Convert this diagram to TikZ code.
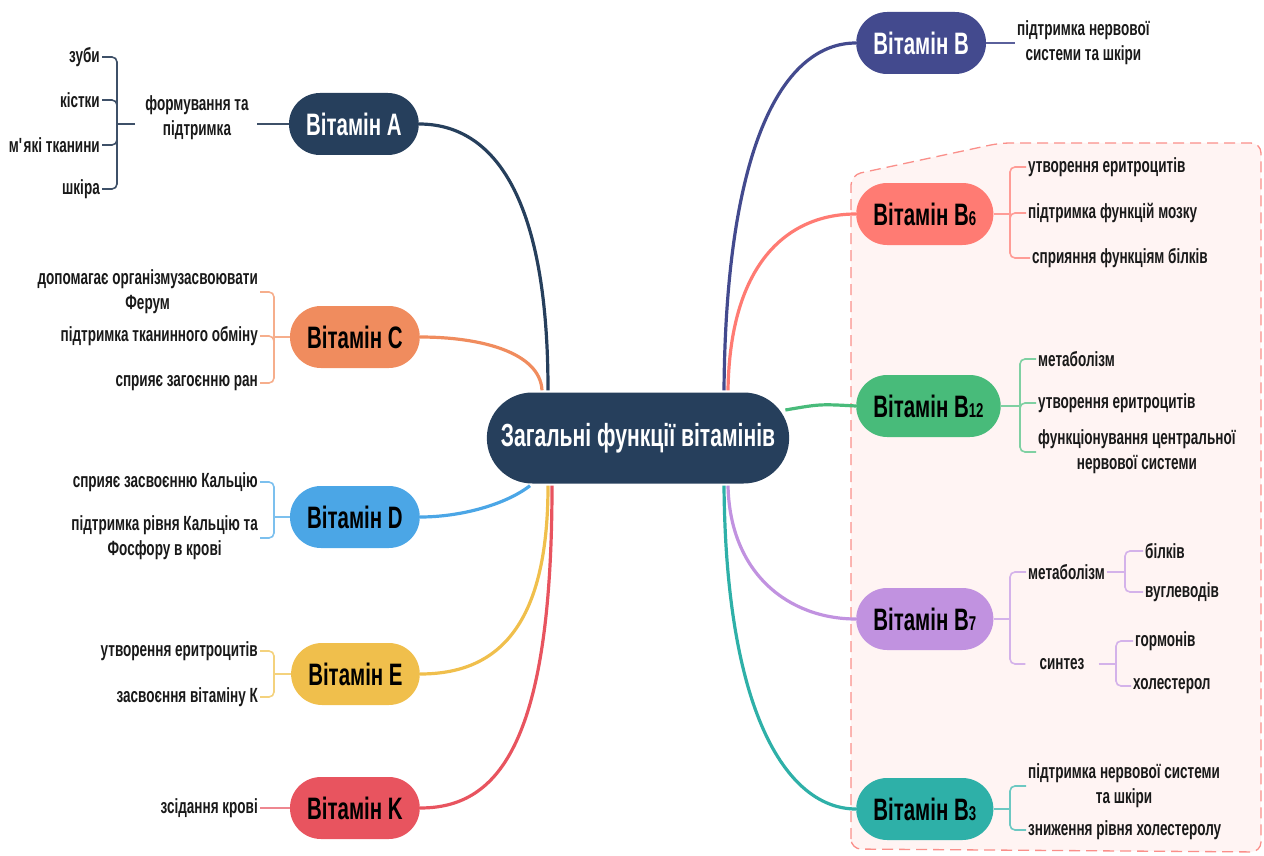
\documentclass[tikz,border=0pt]{standalone}
\usepackage{fontspec}
\setmainfont{Liberation Sans}[FakeStretch=0.66]
\usepackage{tikz}
\usetikzlibrary{calc,shapes.misc}

\definecolor{navy}{HTML}{263F5C}
\definecolor{navyl}{HTML}{3E5068}
\definecolor{vitc}{HTML}{F08C5E}
\definecolor{vitcl}{HTML}{F6AE8C}
\definecolor{vitd}{HTML}{4BA6E6}
\definecolor{vitdl}{HTML}{7CC0EE}
\definecolor{vite}{HTML}{F0BF4C}
\definecolor{vitel}{HTML}{F4D27D}
\definecolor{vitk}{HTML}{E8545F}
\definecolor{vitkl}{HTML}{EE8790}
\definecolor{vitb}{HTML}{434A8E}
\definecolor{vitbl}{HTML}{5A609B}
\definecolor{vitbsix}{HTML}{FF7B73}
\definecolor{vitbsixl}{HTML}{FF9C96}
\definecolor{vitbtw}{HTML}{48BB7A}
\definecolor{vitbtwl}{HTML}{7FD0A2}
\definecolor{vitbsev}{HTML}{C192E0}
\definecolor{vitbsevl}{HTML}{D4B2EA}
\definecolor{vitbthr}{HTML}{2EB0A8}
\definecolor{vitbthrl}{HTML}{6CC8C2}
\definecolor{zonefill}{HTML}{FFF4F3}
\definecolor{zoneline}{HTML}{FA8F8A}

\pgfdeclarelayer{background}
\pgfsetlayers{background,main}

\newcommand{\idx}[1]{{\fontsize{20}{20}\selectfont #1}}

\tikzset{
	vit/.style={rounded rectangle, minimum height=62pt, inner xsep=15pt, font=\fontsize{31}{31}\selectfont\bfseries},
	leaf/.style={inner sep=2pt, text=black!90, font=\fontsize{20.5}{25}\selectfont\bfseries},
	branch/.style={line width=3.2pt},
	twig/.style={line width=1.6pt, rounded corners=5pt}
}

\begin{document}
\begin{tikzpicture}[x=1pt,y=-1pt]
				\useasboundingbox (0,0) rectangle (1264,856);
				
				\node[rounded rectangle, fill=navy, text=white, minimum width=309pt, minimum height=91pt, font=\fontsize{32}{32}\selectfont\bfseries] (Z) at (638,438) {Загальні функції вітамінів};
				
				% left side
				\node[vit, fill=navy, text=white, anchor=east] (A) at (419,124) {Вітамін A};
				\node[vit, fill=vitc, anchor=east] (C) at (420,337) {Вітамін C};
				\node[vit, fill=vitd, anchor=east] (D) at (420,517) {Вітамін D};
				\node[vit, fill=vite, anchor=east] (E) at (420,674) {Вітамін E};
				\node[vit, fill=vitk, anchor=east] (K) at (420,808) {Вітамін K};
				
				% right side
				\node[vit, fill=vitb, text=white, anchor=west] (B) at (856,43) {Вітамін B};
				\node[vit, fill=vitbsix, anchor=west] (B6) at (856,214) {Вітамін B\idx{6}};
				\node[vit, fill=vitbtw, anchor=west] (B12) at (856,406) {Вітамін B\idx{12}};
				\node[vit, fill=vitbsev, anchor=west] (B7) at (856,619) {Вітамін B\idx{7}};
				\node[vit, fill=vitbthr, anchor=west] (B3) at (856,809) {Вітамін B\idx{3}};
				
				\begin{pgfonlayer}{background}
				\draw[zoneline, fill=zonefill, line width=1.3pt, dash pattern=on 11pt off 6pt, rounded corners=10pt] (851,849) -- (851,175) -- (1000,143) -- (1261,143) -- (1261,852) -- cycle;
				
				\draw[branch, navy] ($(Z.north)+(-90,-2)$) .. controls (548,190) and (490,124) .. (A.east);
				\draw[branch, vitc] ($(Z.north)+(-96,-2)$) .. controls (540,352) and (480,337) .. (C.east);
				\draw[branch, vitd] ($(Z.south)+(-108,2)$) .. controls (505,505) and (460,517) .. (D.east);
				\draw[branch, vite] ($(Z.south)+(-90,2)$) .. controls (548,630) and (495,674) .. (E.east);
				\draw[branch, vitk] ($(Z.south)+(-86,2)$) .. controls (552,750) and (495,808) .. (K.east);
				\draw[branch, vitb] ($(Z.north)+(86,-2)$) .. controls (726,140) and (785,43) .. (B.west);
				\draw[branch, vitbsix] ($(Z.north)+(90,-2)$) .. controls (730,260) and (790,214) .. (B6.west);
				\draw[branch, vitbtw] ($(Z.east)+(-4,-28)$) .. controls (820,404) .. (B12.west);
				\draw[branch, vitbsev] ($(Z.south)+(90,2)$) .. controls (730,575) and (790,619) .. (B7.west);
				\draw[branch, vitbthr] ($(Z.south)+(86,2)$) .. controls (726,720) and (790,809) .. (B3.west);
				\end{pgfonlayer}
				
				% vitamin A
				\node[leaf, align=center] (a0) at (197,118) {формування та\\підтримка};
				\node[leaf, anchor=east] (a1) at (102,57) {зуби};
				\node[leaf, anchor=east] (a2) at (102,100) {кістки};
				\node[leaf, anchor=east] (a3) at (102,145) {м\textquotesingle які тканини};
				\node[leaf, anchor=east] (a4) at (102,189) {шкіра};
				\coordinate (aj) at (117,124);
				\draw[twig, navyl] (A.west) -- ($(a0.east)+(6,6)$);
				\draw[twig, navyl] ($(a0.west)+(-8,6)$) -- (aj);
				\foreach \n in {a1,a2,a3,a4}{
					\draw[twig, navyl] (aj) |- (\n.east);
				}
				
				% vitamin C
				\node[leaf, anchor=east, align=center] (c1) at (260,292) {допомагає організмузасвоювати\\Ферум};
				\node[leaf, anchor=east] (c2) at (260,336) {підтримка тканинного обміну};
				\node[leaf, anchor=east] (c3) at (260,383) {сприяє загоєнню ран};
				\coordinate (cj) at (274,337);
				\draw[twig, vitcl] (C.west) -- (cj);
				\foreach \n in {c1,c2,c3}{
					\draw[twig, vitcl] (cj) |- (\n.east);
				}
				
				% vitamin D
				\node[leaf, anchor=east] (d1) at (260,482) {сприяє засвоєнню Кальцію};
				\node[leaf, anchor=east, align=center] (d2) at (260,538) {підтримка рівня Кальцію та\\Фосфору в крові};
				\coordinate (dj) at (274,517);
				\draw[twig, vitdl] (D.west) -- (dj);
				\foreach \n in {d1,d2}{
					\draw[twig, vitdl] (dj) |- (\n.east);
				}
				
				% vitamin E
				\node[leaf, anchor=east] (e1) at (260,651) {утворення еритроцитів};
				\node[leaf, anchor=east] (e2) at (260,697) {засвоєння вітаміну К};
				\coordinate (ej) at (274,674);
				\draw[twig, vitel] (E.west) -- (ej);
				\foreach \n in {e1,e2}{
					\draw[twig, vitel] (ej) |- (\n.east);
				}
				
				% vitamin K
				\node[leaf, anchor=east] (k1) at (260,808) {зсідання крові};
				\draw[twig, vitkl] (K.west) -- (k1.east);
				
				% vitamin B
				\node[leaf, anchor=west, align=center] (b1) at (1015,43) {підтримка нервової\\системи та шкіри};
				\draw[twig, vitbl] (B.east) -- (b1.west);
				
				% vitamin B6
				\node[leaf, anchor=west] (s1) at (1026,167) {утворення еритроцитів};
				\node[leaf, anchor=west] (s2) at (1026,213) {підтримка функцій мозку};
				\node[leaf, anchor=west] (s3) at (1030,258) {сприяння функціям білків};
				\coordinate (sj) at (1010,214);
				\draw[twig, vitbsixl] (B6.east) -- (sj);
				\foreach \n in {s1,s2,s3}{
					\draw[twig, vitbsixl] (sj) |- (\n.west);
				}
				
				% vitamin B12
				\node[leaf, anchor=west] (t1) at (1036,359) {метаболізм};
				\node[leaf, anchor=west] (t2) at (1036,403) {утворення еритроцитів};
				\node[leaf, anchor=west, align=center] (t3) at (1036,452) {функціонування центральної\\нервової системи};
				\coordinate (tj) at (1020,406);
				\draw[twig, vitbtwl] (B12.east) -- (tj);
				\foreach \n in {t1,t2,t3}{
					\draw[twig, vitbtwl] (tj) |- (\n.west);
				}
				
				% vitamin B7
				\node[leaf, anchor=west] (m0) at (1026,572) {метаболізм};
				\node[leaf, inner xsep=14pt] (n0) at (1062,664) {синтез};
				\node[leaf, anchor=west] (m1) at (1143,551) {білків};
				\node[leaf, anchor=west] (m2) at (1143,592) {вуглеводів};
				\node[leaf, anchor=west] (n1) at (1133,641) {гормонів};
				\node[leaf, anchor=west] (n2) at (1131,686) {холестерол};
				\coordinate (vj) at (1010,619);
				\coordinate (mj) at (1125,572);
				\coordinate (nj) at (1116,664);
				\draw[twig, vitbsevl] (B7.east) -- (vj);
				\foreach \n in {m0,n0}{
					\draw[twig, vitbsevl] (vj) |- (\n.west);
				}
				\draw[twig, vitbsevl] (m0.east) -- (mj);
				\draw[twig, vitbsevl] (n0.east) -- (nj);
				\foreach \n in {m1,m2}{
					\draw[twig, vitbsevl] (mj) |- (\n.west);
				}
				\foreach \n in {n1,n2}{
					\draw[twig, vitbsevl] (nj) |- (\n.west);
				}
				
				% vitamin B3
				\node[leaf, anchor=west, align=center] (h1) at (1026,786) {підтримка нервової системи\\та шкіри};
				\node[leaf, anchor=west] (h2) at (1026,830) {зниження рівня холестеролу};
				\coordinate (hj) at (1010,809);
				\draw[twig, vitbthrl] (B3.east) -- (hj);
				\foreach \n in {h1,h2}{
					\draw[twig, vitbthrl] (hj) |- (\n.west);
				}
				
			\end{tikzpicture}
\end{document}
